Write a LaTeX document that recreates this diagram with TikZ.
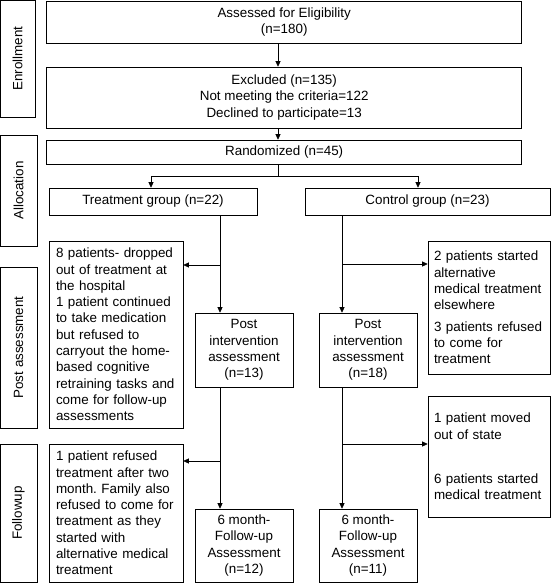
\documentclass[tikz,border=0pt]{standalone}
\usepackage{fontspec}
\setmainfont{Liberation Sans}
\usetikzlibrary{arrows.meta,positioning}
\frenchspacing
\hyphenpenalty=10000

\tikzset{
  box/.style={draw, line width=0.6pt, inner sep=0pt, align=center},
  lbox/.style={draw, line width=0.6pt, inner xsep=7pt, inner ysep=0pt, align=left},
  side/.style={draw, line width=0.6pt, inner sep=0pt, rotate=90},
  arr/.style={line width=0.6pt, -{Triangle[length=5.5pt,width=5pt]}},
  link/.style={line width=0.6pt},
}

\begin{document}
\begin{tikzpicture}[x=1pt, y=-1pt, font=\fontsize{13.4}{16.3}\selectfont]

    \useasboundingbox (0,0) rectangle (551,583);

    % SIDE LABELS
    \node[side, minimum width=117pt, minimum height=35pt] (enr) at (17.5,58.5) {Enrollment};
    \node[side, minimum width=111pt, minimum height=37pt] (alloc) at (18.5,190.5) {Allocation};
    \node[side, minimum width=161pt, minimum height=37pt] (post) at (18.5,347.5) {Post assessment};
    \node[side, minimum width=138pt, minimum height=37pt] (fol) at (18.5,513) {Followup};

    % ENROLLMENT AND ALLOCATION
    \node[box, minimum width=475pt, minimum height=42pt] (assess) at (284.2,22) {Assessed for Eligibility\\(n=180)};
    \node[box, minimum width=475pt, minimum height=61pt] (excl) at (284.2,97.5) {Excluded (n=135)\\Not meeting the criteria=122\\Declined to participate=13};
    \node[box, minimum width=475pt, minimum height=24pt] (rand) at (284.2,152) {Randomized (n=45)};
    \node[box, minimum width=208pt, minimum height=27pt] (treat) at (153,201.5) {Treatment group (n=22)};
    \node[box, minimum width=245pt, minimum height=27pt] (ctrl) at (427.5,201.5) {Control group (n=23)};

    % POST ASSESSMENT
    \node[lbox, text width=120pt, minimum height=187pt] (ldrop) at (116,334.5) {8 patients- dropped\\out of treatment at\\the hospital\\1 patient continued\\to take medication\\but refused to\\carryout the home-\\based cognitive\\retraining tasks and\\come for follow-up\\assessments};
    \node[box, minimum width=98pt, minimum height=74pt] (postL) at (244,350) {Post\\intervention\\assessment\\(n=13)};
    \node[box, minimum width=98pt, minimum height=74pt] (postR) at (368,350) {Post\\intervention\\assessment\\(n=18)};
    \node[lbox, inner xsep=6pt, text width=110pt, minimum height=133pt] (rdrop) at (489,307.5) {2 patients started\\alternative\\medical treatment\\elsewhere\\[5pt]3 patients refused\\to come for\\treatment};

    % FOLLOWUP
    \node[lbox, text width=120pt, minimum height=138pt] (lfol) at (116,513) {1 patient refused\\treatment after two\\month. Family also\\refused to come for\\treatment as they\\started with\\alternative medical\\treatment};
    \node[box, minimum width=98pt, minimum height=73pt] (sixL) at (244,545.5) {6 month-\\Follow-up\\Assessment\\(n=12)};
    \node[box, minimum width=98pt, minimum height=73pt] (sixR) at (368,545.5) {6 month-\\Follow-up\\Assessment\\(n=11)};
    \node[lbox, inner xsep=6pt, text width=110pt, minimum height=121pt] (rfol) at (489,456.5) {1 patient moved\\out of state\\[28pt]6 patients started\\medical treatment};

    % CONNECTORS
    \coordinate (mx) at (278,0);
    \coordinate (tx) at (220,0);
    \coordinate (cx) at (342,0);
    \coordinate (ta) at (151,176);
    \coordinate (ca) at (418,176);
    \coordinate (tb) at (220,265);
    \coordinate (cb) at (342,264);
    \coordinate (tc) at (220,461);
    \coordinate (cc) at (342,444);

    \draw[arr] (assess.south -| mx) -- (excl.north -| mx);
    \draw[arr] (excl.south -| mx) -- (rand.north -| mx);
    \draw[link] (rand.south -| mx) -- (mx |- ta);
    \draw[link] (ta) -- (ca);
    \draw[arr] (ta) -- (treat.north -| ta);
    \draw[arr] (ca) -- (ctrl.north -| ca);

    \draw[arr] (treat.south -| tx) -- (postL.north -| tx);
    \draw[arr] (tb) -- (tb -| ldrop.east);
    \draw[arr] (ctrl.south -| cx) -- (postR.north -| cx);
    \draw[arr] (cb) -- (cb -| rdrop.west);

    \draw[arr] (postL.south -| tx) -- (sixL.north -| tx);
    \draw[arr] (tc) -- (tc -| lfol.east);
    \draw[arr] (postR.south -| cx) -- (sixR.north -| cx);
    \draw[arr] (cc) -- (cc -| rfol.west);

\end{tikzpicture}
\end{document}
